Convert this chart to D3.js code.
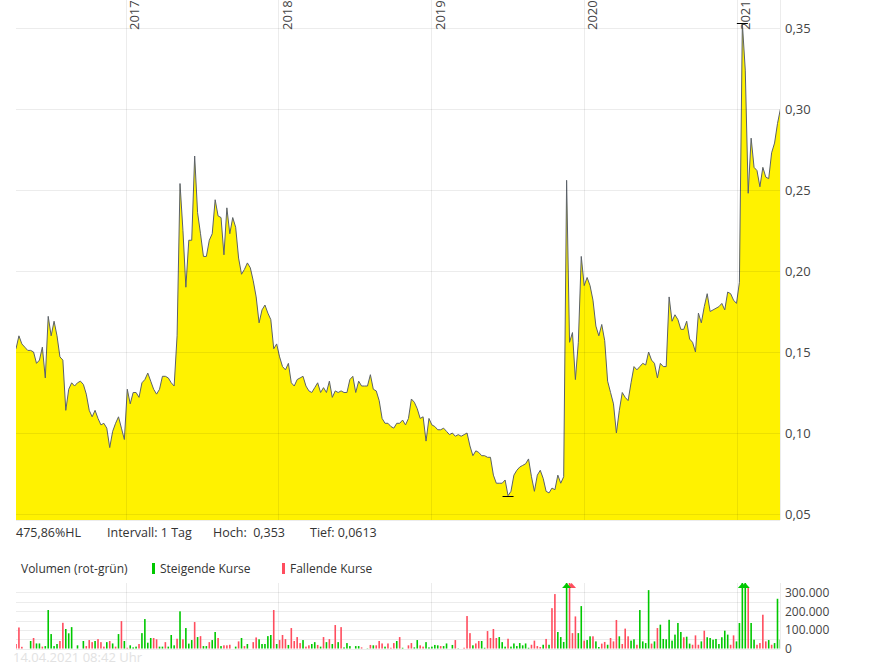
<!DOCTYPE html>
<html>
<head>
<meta charset="utf-8">
<script src="https://cdn.jsdelivr.net/npm/d3@7"></script>
<style>
  body { margin: 0; background: #fff; }
  svg { display: block; font-family: "Open Sans", sans-serif; }
</style>
</head>
<body>
<svg id="chart" width="895" height="669"></svg>
<script>
// Zeitraum: 5 Jahre, Wochenwerte
const startDate = new Date(2016, 3, 14);
const endDate = new Date(2021, 3, 14);

// Schlusskurse (wöchentlich)
const priceValues = [
  0.152, 0.160, 0.155, 0.153, 0.151, 0.151, 0.150, 0.143, 0.145, 0.153,
  0.134, 0.172, 0.160, 0.169, 0.160, 0.147, 0.145, 0.114, 0.127, 0.131,
  0.129, 0.131, 0.132, 0.130, 0.124, 0.114, 0.110, 0.114, 0.109, 0.105,
  0.106, 0.103, 0.091, 0.101, 0.106, 0.110, 0.103, 0.096, 0.127, 0.118,
  0.125, 0.125, 0.122, 0.131, 0.133, 0.137, 0.132, 0.127, 0.124, 0.127,
  0.135, 0.135, 0.134, 0.131, 0.129, 0.160, 0.254, 0.225, 0.190, 0.219,
  0.219, 0.271, 0.236, 0.223, 0.209, 0.209, 0.219, 0.223, 0.244, 0.234,
  0.233, 0.210, 0.239, 0.223, 0.233, 0.227, 0.208, 0.198, 0.201, 0.205,
  0.202, 0.194, 0.184, 0.168, 0.176, 0.179, 0.174, 0.170, 0.152, 0.155,
  0.147, 0.141, 0.139, 0.143, 0.131, 0.129, 0.133, 0.134, 0.135, 0.129,
  0.126, 0.125, 0.128, 0.131, 0.125, 0.128, 0.125, 0.132, 0.122, 0.126,
  0.125, 0.126, 0.125, 0.125, 0.133, 0.135, 0.125, 0.132, 0.129, 0.129,
  0.129, 0.136, 0.127, 0.126, 0.120, 0.109, 0.106, 0.106, 0.104, 0.103,
  0.106, 0.106, 0.108, 0.105, 0.109, 0.121, 0.119, 0.115, 0.109, 0.110,
  0.095, 0.109, 0.105, 0.104, 0.102, 0.102, 0.103, 0.101, 0.099, 0.100,
  0.098, 0.099, 0.098, 0.099, 0.100, 0.092, 0.086, 0.089, 0.088, 0.086,
  0.086, 0.085, 0.085, 0.074, 0.069, 0.069, 0.069, 0.071, 0.0613, 0.064,
  0.074, 0.077, 0.079, 0.080, 0.081, 0.084, 0.073, 0.064, 0.074, 0.077,
  0.072, 0.064, 0.063, 0.066, 0.065, 0.074, 0.069, 0.073, 0.256, 0.156,
  0.162, 0.133, 0.156, 0.209, 0.191, 0.196, 0.191, 0.182, 0.166, 0.160,
  0.167, 0.157, 0.132, 0.125, 0.118, 0.100, 0.114, 0.125, 0.122, 0.120,
  0.131, 0.141, 0.139, 0.141, 0.143, 0.142, 0.150, 0.145, 0.143, 0.134,
  0.143, 0.141, 0.141, 0.184, 0.169, 0.173, 0.170, 0.164, 0.164, 0.169,
  0.158, 0.156, 0.150, 0.174, 0.168, 0.178, 0.186, 0.175, 0.176, 0.177,
  0.178, 0.180, 0.176, 0.187, 0.186, 0.182, 0.180, 0.193, 0.353, 0.324,
  0.248, 0.282, 0.264, 0.262, 0.252, 0.264, 0.258, 0.257, 0.273, 0.279,
  0.291, 0.300
];

// Volumen in Tausend Stück (wöchentlich)
const volValues = [
  25, 113, 10, 0, 0, 41, 57, 28, 28, 11,
  14, 206, 78, 14, 25, 41, 138, 105, 82, 115,
  0, 18, 0, 41, 14, 46, 35, 41, 51, 35,
  11, 35, 41, 28, 11, 78, 147, 41, 5, 18,
  7, 11, 25, 83, 158, 32, 57, 57, 50, 11,
  11, 35, 11, 73, 18, 53, 199, 50, 110, 27,
  46, 142, 62, 67, 14, 14, 35, 46, 89, 57,
  14, 18, 18, 21, 0, 11, 39, 57, 14, 25,
  0, 35, 60, 50, 25, 25, 67, 73, 206, 25,
  46, 73, 51, 20, 110, 41, 62, 30, 46, 11,
  18, 25, 35, 20, 11, 62, 35, 51, 25, 126,
  35, 115, 7, 30, 14, 0, 14, 14, 7, 0,
  2, 20, 18, 18, 41, 28, 11, 28, 5, 30,
  41, 62, 5, 0, 18, 30, 7, 46, 18, 11,
  35, 7, 11, 20, 18, 14, 14, 28, 0, 20,
  46, 2, 0, 5, 174, 83, 18, 28, 41, 41,
  5, 94, 57, 105, 57, 62, 35, 11, 53, 11,
  28, 14, 30, 18, 28, 5, 21, 43, 14, 9,
  21, 52, 21, 216, 291, 89, 62, 36, 420, 420,
  83, 172, 83, 227, 43, 46, 66, 66, 39, 9,
  27, 36, 21, 57, 39, 153, 66, 25, 107, 66,
  43, 50, 21, 206, 39, 30, 312, 27, 39, 110,
  128, 52, 50, 154, 43, 75, 137, 89, 61, 64,
  27, 21, 71, 21, 39, 96, 61, 57, 48, 52,
  25, 61, 96, 75, 21, 71, 39, 137, 420, 420,
  323, 137, 48, 21, 30, 181, 39, 46, 21, 30,
  266, 48
];

// g = steigend, r = fallend
const volDirs = (
  "rrrrrgrggr" + "gggggrrggg" + "ggggrrrgrr" + "rgrgrgrgrg" +
  "ggrggggrrg" + "grgggrgrgg" + "grgrggrggr" + "grrrggrgrg" +
  "grrgggggrg" + "rrrgrrrrgr" + "rggrgrgrgr" + "grggggggrg" +
  "grgrrrgrrr" + "grggrrggrr" + "gggggrggrg" + "rggrrrgrrg" +
  "grrrrgggrg" + "ggggggrrrr" + "grgrrgggg" + "r" + "rrggrggrgg" +
  "rrgrrrgrrr" + "ggrggggrgr" + "ggggggggrg" + "grrrgrgggg" +
  "ggggrrgggg" + "rggrrrrgrg" + "gg"
).split("");

const yearTicks = [2017, 2018, 2019, 2020, 2021];
const priceTicks = [0.05, 0.10, 0.15, 0.20, 0.25, 0.30, 0.35];
const volTicks = [0, 100000, 200000, 300000];
const volGrid = [0, 50000, 100000, 150000, 200000, 250000, 300000];
const infoLabels = ["475,86%HL", "Intervall: 1 Tag", "Hoch:  0,353", "Tief: 0,0613"];
const infoX = [16, 107, 213, 310];

const de = d3.formatLocale({ decimal: ",", thousands: ".", grouping: [3], currency: ["", " €"] });

const svg = d3.select("#chart");
const left = 16, right = 780, priceTop = 0, priceBottom = 520;
const volTop = 583, volBottom = 648.7;

const x = d3.scaleTime().domain([startDate, endDate]).range([left, right]);
const y = d3.scaleLinear().domain([0.0463, 0.3673]).range([priceBottom, priceTop]);
const yv = d3.scaleLinear().domain([0, 350000]).range([volBottom, volTop]);

const points = priceValues.map((v, i) => ({ date: d3.timeDay.offset(startDate, i * 7), v }));
const bars = volValues.map((v, i) => ({
  date: d3.timeDay.offset(startDate, i * 7),
  v: v * 1000,
  dir: volDirs[i]
}));

svg.append("clipPath").attr("id", "clipPrice")
  .append("rect").attr("x", left).attr("y", priceTop)
  .attr("width", right - left).attr("height", priceBottom - priceTop);
svg.append("clipPath").attr("id", "clipVol")
  .append("rect").attr("x", left).attr("y", volTop)
  .attr("width", right - left).attr("height", volBottom - volTop);

// Kursfläche
const gPrice = svg.append("g").attr("clip-path", "url(#clipPrice)");
gPrice.append("path")
  .datum(points)
  .attr("fill", "#fff200")
  .attr("d", d3.area().x(d => x(d.date)).y0(priceBottom).y1(d => y(d.v)));

// Gitternetz (über der Fläche, leicht transparent)
const grid = svg.append("g").attr("stroke", "#000").attr("stroke-opacity", 0.075);
grid.selectAll(".hp").data(priceTicks).join("line")
  .attr("x1", left).attr("x2", right)
  .attr("y1", d => Math.round(y(d)) + 0.5).attr("y2", d => Math.round(y(d)) + 0.5);
grid.selectAll(".vp").data(yearTicks).join("line")
  .attr("x1", d => Math.round(x(new Date(d, 0, 1))) + 0.5)
  .attr("x2", d => Math.round(x(new Date(d, 0, 1))) + 0.5)
  .attr("y1", priceTop).attr("y2", priceBottom);
grid.append("line").attr("x1", right + 0.5).attr("x2", right + 0.5).attr("y1", priceTop).attr("y2", priceBottom);
grid.append("line").attr("x1", left).attr("x2", right).attr("y1", priceBottom + 0.5).attr("y2", priceBottom + 0.5);

// Kurslinie
gPrice.append("path")
  .datum(points)
  .attr("fill", "none")
  .attr("stroke", "#5b6169")
  .attr("stroke-width", 1)
  .attr("stroke-linejoin", "round")
  .attr("d", d3.line().x(d => x(d.date)).y(d => y(d.v)));

// Hoch- / Tief-Markierung
const hi = points.reduce((a, b) => (b.v > a.v ? b : a));
const lo = points.reduce((a, b) => (b.v < a.v ? b : a));
[hi, lo].forEach(p => {
  svg.append("line")
    .attr("x1", x(p.date) - 5.5).attr("x2", x(p.date) + 5.5)
    .attr("y1", Math.round(y(p.v)) + 0.5).attr("y2", Math.round(y(p.v)) + 0.5)
    .attr("stroke", "#000").attr("stroke-width", 1);
});

// Jahreszahlen (gedreht)
svg.append("g").selectAll("text").data(yearTicks).join("text")
  .attr("transform", d => `translate(${x(new Date(d, 0, 1)) + 13.5},30) rotate(-90)`)
  .attr("font-size", 13)
  .attr("fill", "#444")
  .text(d => d);

// Kursachse rechts
const yAxis = svg.append("g")
  .attr("transform", `translate(${right},0)`)
  .call(d3.axisRight(y).tickValues(priceTicks).tickSize(0).tickPadding(5).tickFormat(de.format(".2f")));
yAxis.select(".domain").remove();
yAxis.selectAll("text").attr("font-size", 13).attr("fill", "#444").attr("font-family", "Open Sans, sans-serif");

// Info-Zeile
svg.append("g").selectAll("text").data(infoLabels).join("text")
  .attr("x", (d, i) => infoX[i]).attr("y", 537)
  .attr("font-size", 12.5).attr("fill", "#333")
  .attr("xml:space", "preserve").style("white-space", "pre")
  .text(d => d);

// Legende Volumen
const leg = svg.append("g").attr("font-size", 12).attr("fill", "#333");
leg.append("text").attr("x", 21).attr("y", 573).text("Volumen (rot-grün)");
leg.append("rect").attr("x", 152).attr("y", 563).attr("width", 3).attr("height", 11).attr("fill", "#00c800");
leg.append("text").attr("x", 160).attr("y", 573).text("Steigende Kurse");
leg.append("rect").attr("x", 282).attr("y", 563).attr("width", 3).attr("height", 11).attr("fill", "#ff4d5e");
leg.append("text").attr("x", 290).attr("y", 573).text("Fallende Kurse");

// Volumen-Gitter
const vgrid = svg.append("g").attr("stroke", "#000").attr("stroke-opacity", 0.075);
vgrid.selectAll(".hv").data(volGrid).join("line")
  .attr("x1", left).attr("x2", right)
  .attr("y1", d => Math.round(yv(d)) + 0.5).attr("y2", d => Math.round(yv(d)) + 0.5);
vgrid.selectAll(".vv").data(yearTicks).join("line")
  .attr("x1", d => Math.round(x(new Date(d, 0, 1))) + 0.5)
  .attr("x2", d => Math.round(x(new Date(d, 0, 1))) + 0.5)
  .attr("y1", volTop).attr("y2", volBottom);
vgrid.append("line").attr("x1", right + 0.5).attr("x2", right + 0.5).attr("y1", volTop).attr("y2", volBottom);

// Volumenbalken
const gVol = svg.append("g").attr("clip-path", "url(#clipVol)");
gVol.selectAll("rect").data(bars.filter(d => d.v > 0)).join("rect")
  .attr("x", d => x(d.date) - 0.8)
  .attr("width", 1.6)
  .attr("y", d => yv(Math.min(d.v, 350000)))
  .attr("height", d => volBottom - yv(Math.min(d.v, 350000)))
  .attr("fill", d => (d.dir === "g" ? "#00c800" : "#ff4d5e"));

// Pfeile für abgeschnittene Balken
svg.append("g").selectAll("path").data(bars.filter(d => d.v > 350000).reverse()).join("path")
  .attr("d", d => {
    const cx = x(d.date) + (d.dir === "r" ? 2 : 0);
    return `M${cx},${volTop} L${cx - 4.5},${volTop + 5} L${cx + 4.5},${volTop + 5} Z`;
  })
  .attr("fill", d => (d.dir === "g" ? "#00c800" : "#ff4d5e"));

// Volumenachse
const vAxis = svg.append("g")
  .attr("transform", `translate(${right},0)`)
  .call(d3.axisRight(yv).tickValues(volTicks).tickSize(0).tickPadding(5).tickFormat(de.format(",.0f")));
vAxis.select(".domain").remove();
vAxis.selectAll("text").attr("font-size", 12).attr("fill", "#444").attr("font-family", "Open Sans, sans-serif");

// Zeitstempel
svg.append("text").attr("x", 13).attr("y", 662)
  .attr("font-size", 13).attr("fill", "#e2e2e2")
  .text("14.04.2021 08:42 Uhr");
</script>
</body>
</html>
